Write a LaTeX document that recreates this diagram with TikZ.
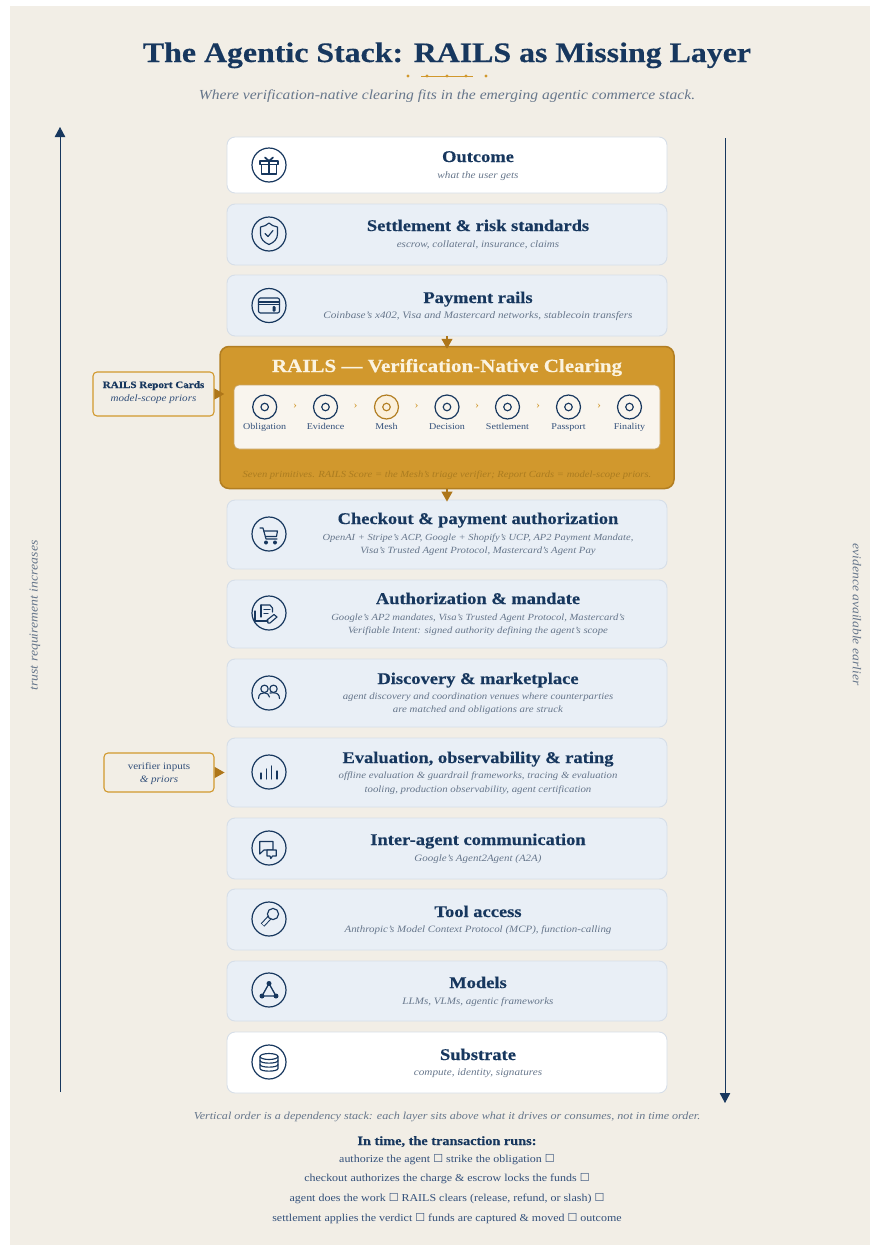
\documentclass[tikz,border=0pt]{standalone}
\usepackage{fontspec}
\setmainfont[FakeStretch=1.13,BoldFeatures={FakeStretch=1.13,FakeBold=0.35}]{Liberation Serif}
\newfontfamily\symf{DejaVu Sans}
\usetikzlibrary{arrows.meta}
\definecolor{navy}{HTML}{17375E}
\definecolor{paneltone}{HTML}{F2EEE6}
\definecolor{cardfill}{HTML}{E9EFF6}
\definecolor{cardline}{HTML}{D6DEE8}
\definecolor{subgray}{HTML}{66768B}
\definecolor{bodyblue}{HTML}{33507A}
\definecolor{railsgold}{HTML}{D1982D}
\definecolor{railsedge}{HTML}{B27E22}
\definecolor{arrowgold}{HTML}{AE7619}
\definecolor{capgold}{HTML}{AB7C20}
\definecolor{innerfill}{HTML}{F9F5EE}
\definecolor{meshfill}{HTML}{FBF0DC}
\definecolor{titlecream}{HTML}{FBF3E0}
\tikzset{
 x=1pt,y=-1pt,
 cardbase/.style={draw=cardline,line width=.9pt,rounded corners=8pt,inner sep=0pt,minimum width=440pt},
 bluecard/.style={cardbase,fill=cardfill},
 whitecard/.style={cardbase,fill=white},
 ring/.style={circle,draw=navy,line width=1.2pt,minimum size=34pt,inner sep=0pt},
 ic/.style={draw=navy,line width=1.15pt,line join=round,line cap=round},
 ttlstyle/.style={anchor=base,inner sep=0pt,font=\fontsize{16.35}{18}\selectfont\bfseries,text=navy},
 substyle/.style={anchor=base,inner sep=0pt,text=subgray},
 sidebox/.style={draw=railsgold,line width=1.1pt,rounded corners=4pt,fill=paneltone,inner sep=0pt},
 goldarrow/.style={draw=arrowgold,line width=1.2pt,-{Triangle[width=11pt,length=10pt,fill=arrowgold]}},
 navyarrow/.style={draw=navy,line width=.85pt,-{Triangle[width=10.5pt,length=10pt,fill=navy]}},
 prim/.style={circle,draw=navy,line width=1.2pt,minimum size=24pt,inner sep=0pt,fill=white},
 primdot/.style={circle,draw=navy,line width=1.15pt,minimum size=7.5pt,inner sep=0pt},
 primlbl/.style={anchor=base,inner sep=0pt,font=\fontsize{8.9}{10}\selectfont,text=bodyblue},
 chev/.style={inner sep=0pt,font=\fontsize{10.5}{11}\selectfont,text=railsgold},
 footl/.style={anchor=base,inner sep=0pt,font=\fontsize{10.6}{12}\selectfont,text=bodyblue},
}
\newcommand{\card}[4]{% name style top bottom
 \node[#2,minimum height={(#4-#3)*1pt}] (#1) at (447,{(#3+#4)/2}) {};}
\newcommand{\ttl}[3]{\node[ttlstyle] (#1) at (478,{#2+5}) {#3};}
\newcommand{\subl}[4]{\node[substyle,font=\fontsize{#3}{11}\selectfont\itshape] (#1) at (478,{#2+3.3}) {#4};}
\newcommand{\ringat}[2]{\node[ring] (#1) at (269,#2) {};}
\newcommand{\bx}{{\symf\fontsize{11}{11}\selectfont ☐}}
\begin{document}
\begin{tikzpicture}
\useasboundingbox (0,0) rectangle (870,1245);
\fill[paneltone] (10,6) rectangle (870,1245);

% heading
\node[anchor=base,inner sep=0pt,font=\fontsize{28.2}{30}\selectfont\bfseries,text=navy] (title) at (447,62) {The Agentic Stack: RAILS as Missing Layer};
\draw[railsgold,line width=.75pt] (421,76) -- (473,76);
\foreach \dx/\dn in {408/a,427/b,447/c,466/d,486/e}
  \fill[railsgold] (\dx,76) circle[radius=1.6];
\node[anchor=base,inner sep=0pt,font=\fontsize{13.8}{15}\selectfont\itshape,text=subgray] (subtitle) at (447,99) {Where verification-native clearing fits in the emerging agentic commerce stack.};

% side arrows
\coordinate (tbot) at (60,1092); \coordinate (ttop) at (60,127);
\coordinate (etop) at (725,138); \coordinate (ebot) at (725,1103);
\draw[navyarrow] (tbot) -- (ttop);
\draw[navyarrow] (etop) -- (ebot);
\node[rotate=90,inner sep=0pt,font=\fontsize{12.2}{13}\selectfont\itshape,text=subgray] (trust) at (35,615.5) {trust requirement increases};
\node[rotate=-90,inner sep=0pt,font=\fontsize{12}{13}\selectfont\itshape,text=subgray] (evid) at (857,614.5) {evidence available earlier};

% cards
\card{outcome}{whitecard}{137}{193}
\card{settle}{bluecard}{204}{265}
\card{pay}{bluecard}{275}{336}
\card{check}{bluecard}{500}{569}
\card{auth}{bluecard}{580}{648}
\card{disc}{bluecard}{659}{727}
\card{eval}{bluecard}{738}{807}
\card{inter}{bluecard}{818}{879}
\card{tool}{bluecard}{889}{950}
\card{models}{bluecard}{961}{1021}
\card{subs}{whitecard}{1032}{1093}

% rails
\node[draw=railsedge,line width=1.5pt,fill=railsgold,rounded corners=9pt,minimum width=454pt,minimum height=142pt,inner sep=0pt] (rails) at (447,417.5) {};
\node[anchor=base,inner sep=0pt,font=\fontsize{18.6}{20}\selectfont\bfseries,text=titlecream] (railstitle) at (447,372) {RAILS — Verification-Native Clearing};
\node[draw=railsedge!70,line width=.7pt,fill=innerfill,rounded corners=5pt,minimum width=426pt,minimum height=64pt,inner sep=0pt] (inner) at (447,417) {};
\foreach \n/\x/\lab in {p1/264.7/Obligation,p2/325.5/Evidence,p4/447/Decision,p5/507.5/Settlement,p6/568.5/Passport,p7/629.5/Finality}{
  \node[prim,fill=innerfill] (\n) at (\x,407) {};
  \node[primdot] (\n d) at (\x,407) {};
  \node[primlbl] (\n l) at (\x,429) {\lab};
}
\node[prim,draw=railsedge,fill=meshfill] (p3) at (386.5,407) {};
\node[primdot,draw=railsedge] (p3d) at (386.5,407) {};
\node[primlbl] (p3l) at (386.5,429) {Mesh};
\foreach \n/\x in {c1/295,c2/355.5,c3/416.5,c4/477,c5/538,c6/599}
  \node[chev] (\n) at (\x,406.5) {›};
\node[anchor=base,inner sep=0pt,font=\fontsize{9.36}{11}\selectfont\itshape,text=capgold] (cap) at (447,477.5) {Seven primitives. RAILS Score = the Mesh’s triage verifier; Report Cards = model-scope priors.};

% card text
\ttl{t1}{157}{Outcome} \subl{s1}{175}{9.9}{what the user gets}
\ttl{t2}{226}{Settlement \& risk standards} \subl{s2}{244}{9.8}{escrow, collateral, insurance, claims}
\ttl{t3}{298}{Payment rails} \subl{s3}{315}{9.9}{Coinbase’s x402, Visa and Mastercard networks, stablecoin transfers}
\ttl{t4}{519}{Checkout \& payment authorization} \subl{s4a}{537}{9.28}{OpenAI + Stripe’s ACP, Google + Shopify’s UCP, AP2 Payment Mandate,} \subl{s4b}{550}{9.5}{Visa’s Trusted Agent Protocol, Mastercard’s Agent Pay}
\ttl{t5}{599}{Authorization \& mandate} \subl{s5a}{617}{9.4}{Google’s AP2 mandates, Visa’s Trusted Agent Protocol, Mastercard’s} \subl{s5b}{630}{9.48}{Verifiable Intent: signed authority defining the agent’s scope}
\ttl{t6}{679}{Discovery \& marketplace} \subl{s6a}{696}{9.52}{agent discovery and coordination venues where counterparties} \subl{s6b}{709}{9.6}{are matched and obligations are struck}
\ttl{t7}{758}{Evaluation, observability \& rating} \subl{s7a}{775}{9.5}{offline evaluation \& guardrail frameworks, tracing \& evaluation} \subl{s7b}{789}{9.57}{tooling, production observability, agent certification}
\ttl{t8}{840}{Inter-agent communication} \subl{s8}{858}{9.7}{Google’s Agent2Agent (A2A)}
\ttl{t9}{912}{Tool access} \subl{s9}{929}{9.7}{Anthropic’s Model Context Protocol (MCP), function-calling}
\ttl{t10}{983}{Models} \subl{s10}{1001}{9.8}{LLMs, VLMs, agentic frameworks}
\ttl{t11}{1055}{Substrate} \subl{s11}{1072}{9.9}{compute, identity, signatures}

% icon rings
\ringat{i1}{165}\ringat{i2}{234}\ringat{i3}{305.5}\ringat{i4}{534}\ringat{i5}{613}\ringat{i6}{693}\ringat{i7}{772}\ringat{i8}{848}\ringat{i9}{919}\ringat{i10}{990}\ringat{i11}{1062}

% gift
\begin{scope}[shift={(i1.center)},ic]
 \draw (-9,-4) rectangle (9,-0.5);
 \draw (-7.5,-0.5) rectangle (7.5,9);
 \draw (0,-4) -- (0,9);
 \draw[line width=1.7pt] (0,-4) -- (-4,-7.5);
 \draw[line width=1.7pt] (0,-4) -- (4,-7.5);
\end{scope}
% shield
\begin{scope}[shift={(i2.center)},ic]
 \draw (0,-11) .. controls (2,-9) and (5,-7.5) .. (8.5,-7) -- (8.5,0) .. controls (8.5,5) and (5,8.5) .. (0,10.5) .. controls (-5,8.5) and (-8.5,5) .. (-8.5,0) -- (-8.5,-7) .. controls (-5,-7.5) and (-2,-9) .. (0,-11) -- cycle;
 \draw (-4,-0.5) -- (-1,2.5) -- (4,-3.5);
\end{scope}
% card
\begin{scope}[shift={(i3.center)},ic]
 \draw[rounded corners=2pt] (-10.5,-7.5) rectangle (10.5,7.5);
 \draw (-10.5,-3.5) -- (10.5,-3.5);
 \draw (-10.5,-1.2) -- (10.5,-1.2);
 \fill[navy,rounded corners=1pt] (3.5,0.5) rectangle (6.5,6);
\end{scope}
% cart
\begin{scope}[shift={(i4.center)},ic]
 \draw (-9,-6) -- (-6,-6) -- (-3,5) -- (8,5);
 \draw (-5.2,-3) -- (8.5,-3) -- (7.5,2.5) -- (-3.6,2.5);
 \fill[navy] (-3,8.5) circle[radius=2];
 \fill[navy] (6,8.5) circle[radius=2];
\end{scope}
% document + pen
\begin{scope}[shift={(i5.center)},ic]
 \draw (-8,-8) -- (1,-8) -- (3.5,-5) -- (3.5,-1);
 \draw (-5,-3.5) -- (1,-3.5);
 \draw (-5,0.5) -- (-1,0.5);
 \draw (-8,-8) -- (-8,4);
 \draw (-14,-2) -- (-14,8) -- (-1,8);
 \draw (-1,10) -- (-2,7) -- (5,1.5) -- (8,4) -- (1,10) -- cycle;
\end{scope}
% people
\begin{scope}[shift={(i6.center)},ic]
 \draw (-4.5,-4.2) circle[radius=3.7];
 \draw (4.5,-4.2) circle[radius=3.7];
 \draw (-10.5,5.5) .. controls (-10.5,0.5) and (-7,-0.2) .. (-4.5,-0.2) .. controls (-2,-0.2) and (0,1.5) .. (0.5,4);
 \draw (1,0) .. controls (2,-0.2) and (3,-0.3) .. (4.5,-0.2) .. controls (8,-0.2) and (10.5,1.5) .. (10.5,5.5);
\end{scope}
% bars
\begin{scope}[shift={(i7.center)},ic]
 \draw (-8,1) -- (-8,7);
 \draw (-2.7,-3) -- (-2.7,7);
 \draw (2.7,-6) -- (2.7,7);
 \draw (8,-1) -- (8,7);
\end{scope}
% chat
\begin{scope}[shift={(i8.center)},ic]
 \draw (-9.3,-6.5) -- (4,-6.5) -- (4,2) -- (-5,2) -- (-9.3,6) -- cycle;
 \draw[fill=cardfill] (-2,2) -- (7.3,2) -- (7.3,8) -- (3.5,8) -- (1.8,10.5) -- (1,8) -- (-2,8) -- cycle;
\end{scope}
% key
\begin{scope}[shift={(i9.center)},ic]
 \draw[line width=4.8pt,line cap=butt] (1,-2) -- (-6.4,6);
 \draw[line width=2.7pt,cardfill,line cap=butt] (2,-3) -- (-6,5.6);
 \draw[fill=cardfill] (4,-5) circle[radius=5.6];
\end{scope}
% network
\begin{scope}[shift={(i10.center)},ic]
 \draw[line width=1.3pt] (0,-6.5) -- (-7,6) -- (7,6) -- cycle;
 \fill[navy] (0,-6.5) circle[radius=2.5];
 \fill[navy] (-7,6) circle[radius=2.5];
 \fill[navy] (7,6) circle[radius=2.5];
\end{scope}
% database
\begin{scope}[shift={(i11.center)},ic]
 \draw (0,-5.5) ellipse[x radius=9,y radius=3];
 \draw (-9,-5.5) -- (-9,6.5) .. controls (-9,10) and (9,10) .. (9,6.5) -- (9,-5.5);
 \draw (-9,-1.5) .. controls (-9,2) and (9,2) .. (9,-1.5);
 \draw (-9,2.5) .. controls (-9,6) and (9,6) .. (9,2.5);
\end{scope}

% side boxes
\node[sidebox,minimum width=121pt,minimum height=44pt] (rc) at (153.5,394) {};
\node[anchor=base,inner sep=0pt,font=\fontsize{9.8}{11}\selectfont\bfseries,text=navy] (rc1) at (153.5,388) {RAILS Report Cards};
\node[anchor=base,inner sep=0pt,font=\fontsize{9.8}{11}\selectfont\itshape,text=bodyblue] (rc2) at (153.5,401) {model-scope priors};
\node[sidebox,minimum width=110pt,minimum height=39pt] (vb) at (159,772.5) {};
\node[anchor=base,inner sep=0pt,font=\fontsize{9.8}{11}\selectfont,text=bodyblue] (vb1) at (159,769) {verifier inputs};
\node[anchor=base,inner sep=0pt,font=\fontsize{9.8}{11}\selectfont\itshape,text=bodyblue] (vb2) at (159,782) {\& priors};

% connectors
\draw[goldarrow,shorten >=-3pt] (pay.south) -- (rails.north);
\draw[goldarrow,shorten >=-2pt] (rails.south) -- (check.north);
\draw[goldarrow,shorten >=-5pt] (rc.east) -- (rc.east -| rails.west);
\draw[goldarrow,shorten >=2pt] (vb.east) -- (vb.east -| eval.west);

% footer
\node[anchor=base,inner sep=0pt,font=\fontsize{10.7}{12}\selectfont\itshape,text=subgray] (f0) at (447,1119) {Vertical order is a dependency stack: each layer sits above what it drives or consumes, not in time order.};
\node[anchor=base,inner sep=0pt,font=\fontsize{12.65}{13}\selectfont\bfseries,text=navy] (f1) at (447,1145) {In time, the transaction runs:};
\node[footl] (f2) at (447,1162) {authorize the agent \bx{} strike the obligation \bx};
\node[footl] (f3) at (447,1181) {checkout authorizes the charge \& escrow locks the funds \bx};
\node[footl] (f4) at (447,1201) {agent does the work \bx{} RAILS clears (release, refund, or slash) \bx};
\node[footl] (f5) at (447,1221) {settlement applies the verdict \bx{} funds are captured \& moved \bx{} outcome};
\end{tikzpicture}
\end{document}
